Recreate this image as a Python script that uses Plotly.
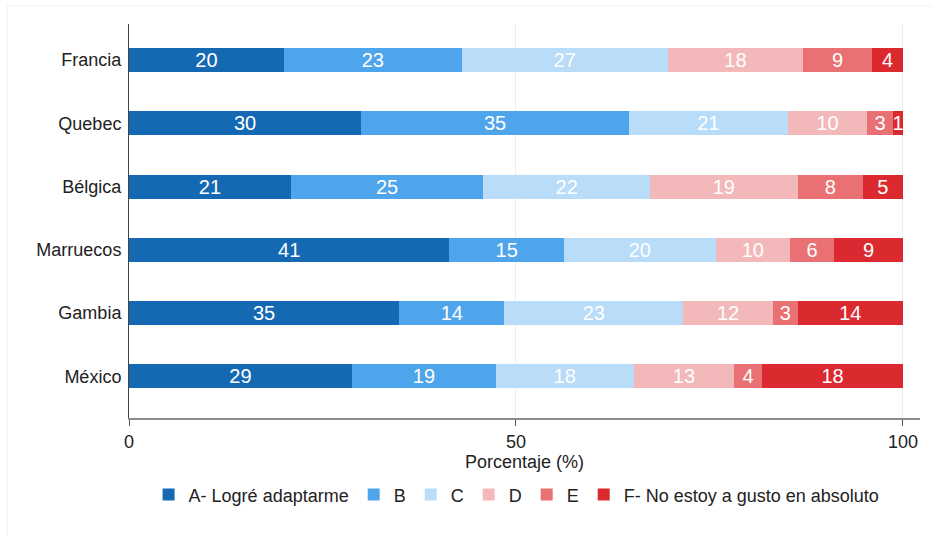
import plotly.graph_objects as go

# Survey answers per country, in percent
countries = ["Francia", "Quebec", "Bélgica", "Marruecos", "Gambia", "México"]
answers = ["A- Logré adaptarme", "B", "C", "D", "E", "F- No estoy a gusto en absoluto"]

a_vals = [20.0, 30.0, 20.9, 41.4, 34.9, 28.8]
b_vals = [23.0, 34.6, 24.9, 14.8, 13.6, 18.6]
c_vals = [26.6, 20.5, 21.5, 19.6, 23.1, 17.8]
d_vals = [17.5, 10.3, 19.1, 9.6, 11.6, 13.0]
e_vals = [8.9, 3.3, 8.4, 5.7, 3.2, 3.6]
f_vals = [4.0, 1.3, 5.2, 8.9, 13.6, 18.2]

series = [a_vals, b_vals, c_vals, d_vals, e_vals, f_vals]
colors = ["#1569b3", "#4fa5ec", "#b9dcf8", "#f3b9ba", "#e97173", "#db2a2f"]

font_family = "Liberation Sans, Arial, sans-serif"

fig = go.Figure()

for name, vals, col in zip(answers, series, colors):
    fig.add_trace(go.Bar(
        y=countries,
        x=vals,
        name=name,
        orientation="h",
        marker=dict(color=col, line=dict(width=0)),
        text=vals,
        texttemplate="%{x:.0f}",
        textposition="inside",
        insidetextanchor="middle",
        textangle=0,
        textfont=dict(color="white", size=20, family=font_family),
        hovertemplate="%{y}: %{x:.1f}%<extra>" + name + "</extra>",
    ))

fig.update_layout(
    barmode="stack",
    bargap=0.62,
    width=932,
    height=536,
    margin=dict(l=129, r=12, t=24, b=118),
    paper_bgcolor="white",
    plot_bgcolor="white",
    font=dict(family=font_family, size=18, color="#222222"),
    uniformtext=dict(minsize=20, mode="show"),
    showlegend=True,
    legend=dict(
        orientation="h",
        x=0.49, xanchor="center",
        y=-0.195, yanchor="middle",
        font=dict(size=18, color="#222222"),
        traceorder="normal",
        itemwidth=30,
        entrywidth=0,
    ),
    shapes=[dict(
        type="rect", xref="paper", yref="paper",
        x0=-0.154, x1=1.02, y0=-0.315, y1=1.046,
        line=dict(color="#eef1f3", width=1),
        layer="below",
    )],
)

fig.update_xaxes(
    range=[0, 102.2],
    tickvals=[0, 50, 100],
    ticks="outside",
    ticklen=6,
    tickcolor="#555555",
    showline=True,
    linecolor="#8a8a8a",
    linewidth=2,
    showgrid=True,
    gridcolor="#e8eef2",
    gridwidth=1,
    zeroline=False,
    title=dict(text="Porcentaje (%)", font=dict(size=18), standoff=0),
    tickfont=dict(size=18),
)

fig.update_yaxes(
    range=[5.66, -0.57],
    showline=True,
    linecolor="#444444",
    linewidth=1,
    ticks="",
    showgrid=False,
    zeroline=False,
    tickfont=dict(size=18),
    ticklabelstandoff=3,
)

fig.write_html(
    "out.html",
    config={"displayModeBar": False},
    post_script="document.body.style.margin='0';",
)
